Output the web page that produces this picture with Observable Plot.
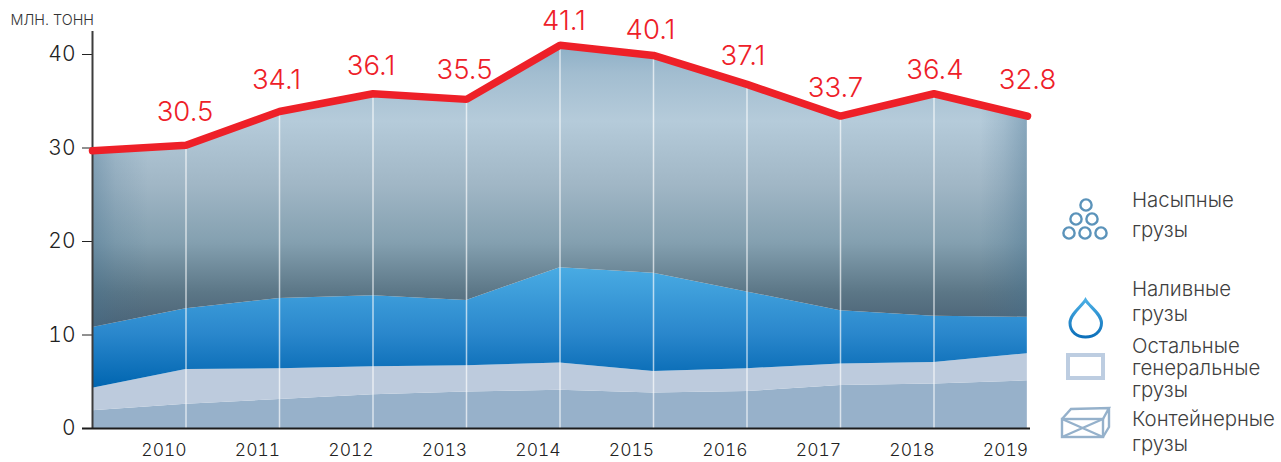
<!DOCTYPE html>
<html lang="ru">
<head>
<meta charset="utf-8">
<script src="https://cdn.jsdelivr.net/npm/d3@7"></script>
<script src="https://cdn.jsdelivr.net/npm/@observablehq/plot@0.6"></script>
<style>
html,body{margin:0;padding:0;background:#fff;overflow:hidden}
#wrap{position:relative;width:1281px;height:462px;font-family:Inter,sans-serif}
#wrap svg{display:block}
.lg{position:absolute;left:1132px;font:300 20.4px/19px Inter,sans-serif;color:#3f3f3f;white-space:nowrap;transform:translateY(-50%)}
#icons{position:absolute;left:0;top:0;pointer-events:none}
</style>
</head>
<body>
<div id="wrap"></div>
<script>
const years = [2009, 2010, 2011, 2012, 2013, 2014, 2015, 2016, 2017, 2018, 2019];
const containers = [1.9, 2.6, 3.1, 3.6, 3.9, 4.1, 3.8, 3.95, 4.6, 4.75, 5.1];
const general = [2.4, 3.7, 3.3, 3.0, 2.8, 2.9, 2.3, 2.45, 2.3, 2.3, 2.9];
const liquid = [6.5, 6.5, 7.5, 7.6, 7.0, 10.2, 10.5, 8.2, 5.7, 4.95, 3.9];
const bulk = [18.9, 17.5, 20.0, 21.6, 21.5, 23.8, 23.3, 22.2, 20.8, 23.8, 21.5];
const totals = [29.7, 30.3, 33.9, 35.8, 35.2, 41.0, 39.9, 36.8, 33.4, 35.8, 33.4];
const labelYears = [2010, 2011, 2012, 2013, 2014, 2015, 2016, 2017, 2018, 2019];
const labelTexts = ["30.5", "34.1", "36.1", "35.5", "41.1", "40.1", "37.1", "33.7", "36.4", "32.8"];
const yTicks = [0, 10, 20, 30, 40];
const seriesNames = ["Контейнерные грузы", "Остальные генеральные грузы", "Наливные грузы", "Насыпные грузы"];
const seriesValues = [containers, general, liquid, bulk];
const legendLines = [
  ["Насыпные", 199], ["грузы", 229],
  ["Наливные", 288], ["грузы", 313],
  ["Остальные", 345], ["генеральные", 367], ["грузы", 389],
  ["Контейнерные", 418], ["грузы", 443]
];

const rows = seriesNames.flatMap((s, i) => years.map((year, j) => ({series: s, year, value: seriesValues[i][j]})));
const totalRows = years.map((year, i) => ({year, total: totals[i]}));
const ruleRows = totalRows.filter(d => d.year > 2009);
const nudges = [[-1,-33],[-3,-31],[-2,-28],[-2,-29],[4,-24],[-3,-25],[-4,-28],[-5,-28],[1,-24],[0,-36]];
const RED = "#ee2028";

function defs() {
  const d = d3.create("svg:defs");
  const grad = (id, stops, horiz) => {
    const g = d.append("linearGradient").attr("id", id)
      .attr("x1", 0).attr("y1", 0).attr("x2", horiz ? 1 : 0).attr("y2", horiz ? 0 : 1);
    stops.forEach(([o, c, a]) => g.append("stop").attr("offset", o).attr("stop-color", c).attr("stop-opacity", a ?? 1));
  };
  grad("gBulk", [[0,"#8cafc6"],[.1,"#a2bdd0"],[.27,"#b5cbda"],[.5,"#a0b6c5"],[.7,"#84a0b0"],[.88,"#5b7686"],[1,"#4a6275"]]);
  grad("gEdge", [[0,"#43708f",.4],[.025,"#43708f",.16],[.06,"#43708f",0],[.95,"#43708f",0],[.975,"#43708f",.16],[1,"#43708f",.4]], true);
  grad("gLiquid", [[0,"#49abe3"],[.55,"#2a87cc"],[1,"#0065b0"]]);
  grad("gDrop", [[0,"#4aaee4"],[1,"#0d70ba"]]);
  return d.node();
}

const plot = Plot.plot({
  width: 1281,
  height: 462,
  marginLeft: 92,
  marginRight: 254,
  marginTop: 31,
  marginBottom: 34,
  style: {fontFamily: "Inter, sans-serif", background: "transparent"},
  x: {type: "linear", domain: [2009, 2019], label: null},
  y: {domain: [0, 42.46], label: null},
  color: {domain: seriesNames, range: ["#97b1ca", "#bdcbdd", "url(#gLiquid)", "url(#gBulk)"]},
  marks: [
    defs,
    Plot.areaY(rows, {x: "year", y: "value", fill: "series", z: "series"}),
    Plot.areaY(rows.filter(d => d.series === seriesNames[3]), {x: "year", y1: (d, i) => totals[i] - bulk[i], y2: (d, i) => totals[i], fill: "url(#gEdge)"}),
    Plot.ruleX(ruleRows, {x: "year", y1: 0, y2: "total", stroke: "#fff", strokeOpacity: 0.65, strokeWidth: 1.5}),
    Plot.axisY({ticks: yTicks, tickSize: 10, tickPadding: 7, label: null, fontSize: 21, fontWeight: 300, stroke: "#222", color: "#222"}),
    Plot.axisX({ticks: labelYears, tickSize: 0, tickPadding: 15, tickFormat: "d", label: null, fontSize: 17.5, fontWeight: 300, dx: -22, color: "#222"}),
    Plot.ruleX([2009], {y1: 0, y2: 42.46, stroke: "#3c3c3c", strokeWidth: 2}),
    Plot.ruleY([0], {stroke: "#1c1c1c", strokeWidth: 2, insetLeft: -10, insetRight: -3}),
    Plot.line(totalRows, {x: "year", y: "total", stroke: RED, strokeWidth: 7.5, strokeLinecap: "round", strokeLinejoin: "miter"}),
    ...labelTexts.map((t, i) => Plot.text([t], {
      x: () => labelYears[i],
      y: () => totals[years.indexOf(labelYears[i])],
      text: d => d, fill: RED, fontSize: 27.5, fontWeight: 300,
      textAnchor: "middle", lineAnchor: "middle",
      dx: nudges[i][0], dy: nudges[i][1]
    })),
    Plot.text(["МЛН. ТОНН"], {frameAnchor: "top-left", dx: -82, dy: -17, text: d => d, fontSize: 14.4, fontWeight: 300, fill: "#333", textAnchor: "start", lineAnchor: "top"})
  ]
});

const wrap = document.getElementById("wrap");
wrap.appendChild(plot);

for (const [t, y] of legendLines) {
  const div = document.createElement("div");
  div.className = "lg";
  div.textContent = t;
  div.style.top = y + "px";
  wrap.appendChild(div);
}

const icons = d3.select(wrap).append("svg").attr("id", "icons").attr("width", 1281).attr("height", 462);
[[1086,205],[1076,219],[1092,219],[1069,233],[1085,233],[1101,233]].forEach(([cx, cy]) =>
  icons.append("circle").attr("cx", cx).attr("cy", cy).attr("r", 5.6).attr("fill", "none").attr("stroke", "#5b93ba").attr("stroke-width", 2.4));
icons.append("path").attr("d", "M1085.5 300 C1082 306 1070 314 1070 323 C1070 332 1077 337 1085.5 337 C1094 337 1101.5 332 1101.5 323 C1101.5 314 1089 306 1085.5 300 Z")
  .attr("fill", "none").attr("stroke", "url(#gDrop)").attr("stroke-width", 3);
icons.append("rect").attr("x", 1068).attr("y", 355).attr("width", 35).attr("height", 23).attr("fill", "none").attr("stroke", "#bdcde1").attr("stroke-width", 4);
const crate = icons.append("g").attr("fill", "none").attr("stroke", "#95b1cb").attr("stroke-width", 2.4);
crate.append("rect").attr("x", 1062).attr("y", 419).attr("width", 41).attr("height", 18);
crate.append("path").attr("d", "M1062 419 L1071 409 L1109 408 L1103 419 M1109 408 L1109 427 L1103 437 M1062 419 L1103 437 M1103 419 L1062 437");
</script>
</body>
</html>
